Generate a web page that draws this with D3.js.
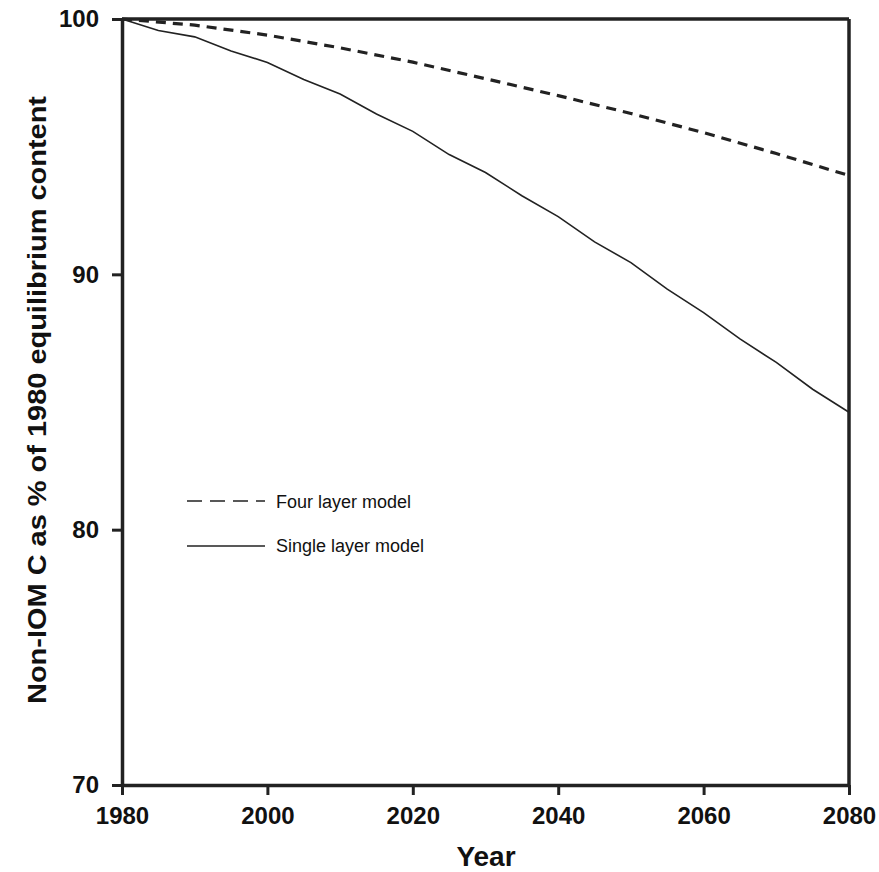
<!DOCTYPE html>
<html>
<head>
<meta charset="utf-8">
<script src="https://cdn.jsdelivr.net/npm/d3@7"></script>
<style>
  html, body { margin: 0; padding: 0; background: #fff; }
  svg { display: block; }
</style>
</head>
<body>
<svg id="chart" width="879" height="872"></svg>
<script>
// ---- Data ----
const years = [1980, 1985, 1990, 1995, 2000, 2005, 2010, 2015, 2020, 2025, 2030, 2035, 2040, 2045, 2050, 2055, 2060, 2065, 2070, 2075, 2080];
const singleLayer = [100, 99.55, 99.3, 98.75, 98.3, 97.63, 97.06, 96.28, 95.6, 94.69, 93.99, 93.08, 92.26, 91.27, 90.46, 89.42, 88.5, 87.47, 86.55, 85.5, 84.6];
const fourYears = [1980, 1990, 2000, 2010, 2020, 2030, 2040, 2050, 2060, 2070, 2080];
const fourLayer = [100, 99.76, 99.37, 98.87, 98.31, 97.66, 97.0, 96.3, 95.55, 94.73, 93.87];
const xTicks = [1980, 2000, 2020, 2040, 2060, 2080];
const yTicks = [70, 80, 90, 100];
const legendLabels = ["Four layer model", "Single layer model"];
const xTitle = "Year";
const yTitle = "Non-IOM C as % of 1980 equilibrium content";

// ---- Layout ----
const mLeft = 122, mRight = 849, mTop = 19, mBottom = 785;
const ink = "#222";
const svg = d3.select("#chart");

const x = d3.scaleLinear().domain([1980, 2080]).range([mLeft, mRight]);
const y = d3.scaleLinear().domain([70, 100]).range([mBottom, mTop]);

// Frame (top and right)
svg.append("line").attr("x1", mLeft).attr("x2", mRight).attr("y1", mTop).attr("y2", mTop)
  .attr("stroke", ink).attr("stroke-width", 3.5);
svg.append("line").attr("x1", mRight).attr("x2", mRight).attr("y1", mTop).attr("y2", mBottom)
  .attr("stroke", ink).attr("stroke-width", 3.5);

// Axes
const fontBold = "'Liberation Sans', Arial, sans-serif";
const gx = svg.append("g").attr("transform", `translate(0,${mBottom})`)
  .call(d3.axisBottom(x).tickValues(xTicks).tickFormat(d3.format("d")).tickSize(10).tickPadding(12).tickSizeOuter(0));
const gy = svg.append("g").attr("transform", `translate(${mLeft},0)`)
  .call(d3.axisLeft(y).tickValues(yTicks).tickFormat(d3.format("d")).tickSize(10).tickPadding(13).tickSizeOuter(0));
[gx, gy].forEach(g => {
  g.select(".domain").attr("stroke", ink).attr("stroke-width", 3.5);
  g.selectAll(".tick line").attr("stroke", ink).attr("stroke-width", 3);
  g.selectAll(".tick text").attr("fill", "#111").style("font-family", fontBold)
    .style("font-size", "24px").style("font-weight", "bold");
});

// Axis titles
svg.append("text").attr("x", 486).attr("y", 866).attr("text-anchor", "middle")
  .style("font-family", fontBold).style("font-size", "28px").style("font-weight", "bold")
  .attr("fill", "#111").text(xTitle);
svg.append("text").attr("transform", "translate(46,400) rotate(-90)").attr("text-anchor", "middle")
  .attr("textLength", 608).attr("lengthAdjust", "spacingAndGlyphs")
  .style("font-family", fontBold).style("font-size", "26px").style("font-weight", "bold")
  .attr("fill", "#111").text(yTitle);

// Lines
const line = d3.line().x(d => x(d[0])).y(d => y(d[1]));
svg.append("path").datum(years.map((yr, i) => [yr, singleLayer[i]]))
  .attr("d", line).attr("fill", "none").attr("stroke", ink).attr("stroke-width", 1.6);
svg.append("path").datum(fourYears.map((yr, i) => [yr, fourLayer[i]]))
  .attr("d", line).attr("fill", "none").attr("stroke", ink).attr("stroke-width", 3.2)
  .attr("stroke-dasharray", "10 7");

// Legend
const lg = svg.append("g");
const legendRows = [
  { label: legendLabels[0], dash: "15 8", yy: 501, ty: 508 },
  { label: legendLabels[1], dash: null, yy: 546, ty: 552 }
];
legendRows.forEach(r => {
  lg.append("line").attr("x1", 187).attr("x2", 265).attr("y1", r.yy).attr("y2", r.yy)
    .attr("stroke", ink).attr("stroke-width", 1.4).attr("stroke-dasharray", r.dash);
  lg.append("text").attr("x", 276).attr("y", r.ty)
    .style("font-family", fontBold).style("font-size", "18px").attr("fill", "#111").text(r.label);
});
</script>
</body>
</html>
